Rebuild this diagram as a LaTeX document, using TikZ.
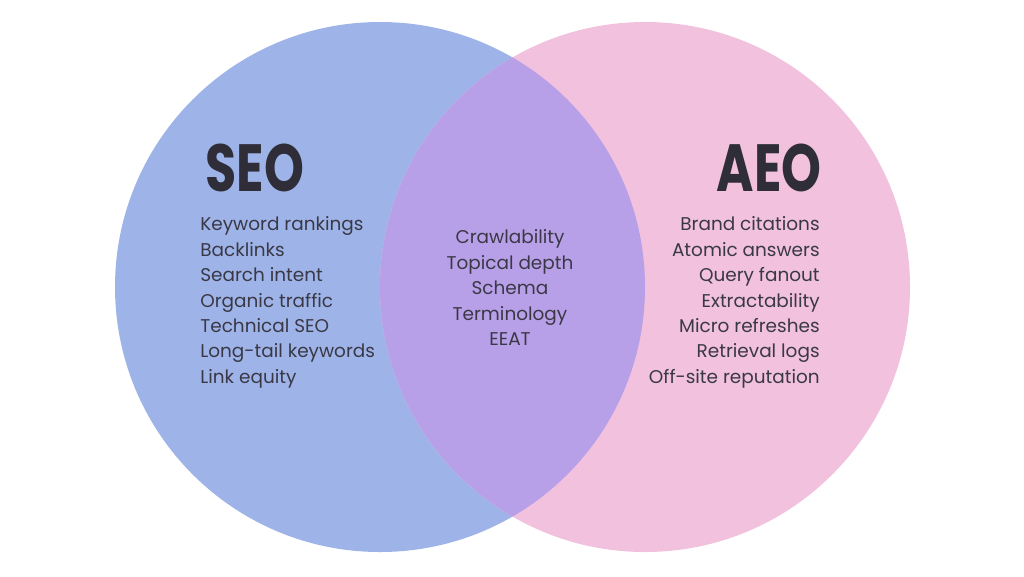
\documentclass[tikz,border=0pt]{standalone}
\usepackage{fontspec}
\setmainfont{Poppins}
\newfontfamily\titlefont[FakeStretch=0.76]{Poppins Bold}
\definecolor{seoblue}{RGB}{158,180,232}
\definecolor{aeopink}{RGB}{241,193,221}
\definecolor{bothlilac}{RGB}{184,160,232}
\definecolor{inkgray}{RGB}{58,56,70}
\tikzset{
    listtext/.style={inner sep=0pt, text=inkgray, font=\fontsize{10.5}{14.45}\selectfont},
    titletext/.style={inner sep=0pt, text=inkgray!80!black, font=\titlefont\fontsize{38}{38}\selectfont}
}
\begin{document}
\begin{tikzpicture}[x=0.02cm, y=-0.02cm]
    \useasboundingbox (0, 0) rectangle (1024, 576);
    \fill[white] (0, 0) rectangle (1024, 576);

    % circles
    \fill[seoblue] (380, 287) circle (265);
    \fill[aeopink] (645, 287) circle (265);
    \begin{scope}
        \clip (380, 287) circle (265);
        \fill[bothlilac] (645, 287) circle (265);
    \end{scope}

    %%%%%%%%%%%%%%%%%%%%%%%%%%%%%%%%%%%%%%%%%%%%%%%%%%%%%%

    \node[titletext, anchor=south west] (seo) at (205, 192) {SEO};
    \node[titletext, anchor=south east] (aeo) at (822, 192) {AEO};

    \node[listtext, align=left, anchor=north west] (seolist) at (200, 216.5)
        {Keyword rankings\\ Backlinks\\ Search intent\\ Organic traffic\\
         Technical SEO\\ Long-tail keywords\\ Link equity};

    \node[listtext, align=center, anchor=north] (bothlist) at (510, 229.5)
        {Crawlability\\ Topical depth\\ Schema\\ Terminology\\ EEAT};

    \node[listtext, align=right, anchor=north east] (aeolist) at (820, 216.5)
        {Brand citations\\ Atomic answers\\ Query fanout\\ Extractability\\
         Micro refreshes\\ Retrieval logs\\ Off-site reputation};
\end{tikzpicture}
\end{document}
